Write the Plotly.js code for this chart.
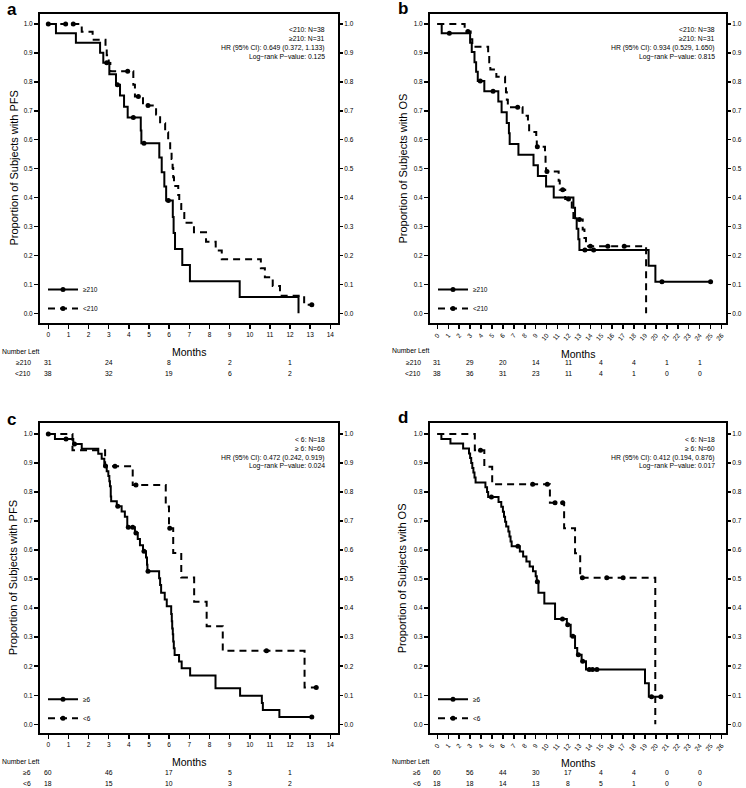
<!DOCTYPE html>
<html><head><meta charset="utf-8">
<script src="https://cdn.plot.ly/plotly-3.0.1.min.js"></script>
<style>html,body{margin:0;padding:0;background:#fff}</style>
</head><body><div id="chart" style="width:746px;height:788px"></div>
<script>
// ---------------- DATA ----------------
// Panel a: PFS, >=210 (solid) vs <210 (dashed)
const aHighT = [0, 0.38, 1.37, 2.57, 2.73, 3.03, 3.36, 3.56, 3.76, 3.94, 4.59, 4.62, 5.51, 5.63, 5.76, 5.85, 6.18, 6.22, 6.29, 6.65, 7.03, 9.5, 12.42];
const aHighS = [1, 0.968, 0.935, 0.901, 0.866, 0.826, 0.790, 0.753, 0.714, 0.677, 0.632, 0.588, 0.539, 0.488, 0.438, 0.39, 0.333, 0.278, 0.222, 0.167, 0.111, 0.056, 0];
const aHighC = [0, 2.9, 3.43, 4.22, 4.75, 5.96];
const aLowT = [0, 1.66, 2.2, 2.84, 2.9, 3.0, 3.08, 4.22, 4.3, 4.7, 5.35, 5.55, 5.8, 5.95, 6.05, 6.12, 6.17, 6.2, 6.24, 6.45, 6.5, 6.6, 6.75, 7.23, 7.83, 8.31, 8.61, 10.55, 10.75, 11.14, 11.5, 12.7];
const aLowS = [1, 0.973, 0.946, 0.919, 0.892, 0.865, 0.837, 0.79, 0.749, 0.718, 0.687, 0.657, 0.626, 0.595, 0.564, 0.533, 0.502, 0.47, 0.44, 0.409, 0.378, 0.347, 0.313, 0.28, 0.247, 0.217, 0.187, 0.156, 0.125, 0.094, 0.061, 0.03];
const aLowC = [0.86, 1.24, 3.94, 4.47, 4.95, 13.08];

// Panel b: OS, >=210 vs <210
const bHighT = [0, 0.4, 3.0, 3.15, 3.4, 3.55, 3.7, 4.3, 5.58, 5.88, 6.35, 6.55, 6.62, 7.42, 8.8, 9.2, 9.95, 10.65, 12.45, 12.6, 12.75, 12.9, 13.0, 19.33, 19.95];
const bHighS = [1, 0.968, 0.935, 0.903, 0.868, 0.835, 0.803, 0.768, 0.732, 0.695, 0.658, 0.622, 0.585, 0.548, 0.512, 0.475, 0.438, 0.40, 0.365, 0.329, 0.292, 0.256, 0.219, 0.164, 0.109];
const bHighC = [1.1, 3.93, 5.1, 13.5, 14.3, 20.55, 25.0];
const bLowT = [0, 2.5, 3.05, 3.2, 4.65, 4.75, 4.85, 5.4, 6.2, 6.28, 6.36, 6.45, 7.8, 8.29, 8.4, 9.05, 9.1, 9.85, 9.9, 9.95, 11.1, 11.2, 11.7, 12.3, 12.45, 13.3, 13.46, 13.6, 19.1];
const bLowS = [1, 0.974, 0.947, 0.921, 0.895, 0.868, 0.843, 0.818, 0.79, 0.764, 0.738, 0.712, 0.683, 0.655, 0.627, 0.6, 0.576, 0.545, 0.515, 0.49, 0.458, 0.427, 0.395, 0.36, 0.324, 0.29, 0.26, 0.232, 0];
const bLowC = [2.8, 7.35, 9.15, 10.03, 11.47, 12.0, 13.0, 14.0, 15.6, 17.1];

// Panel c: PFS, >=6 vs <6
const cHighT = [0, 0.33, 1.24, 1.66, 2.48, 2.65, 2.78, 2.9, 2.98, 3.03, 3.06, 3.1, 3.12, 3.4, 3.64, 3.8, 3.92, 4.3, 4.44, 4.55, 4.7, 4.85, 4.9, 4.92, 5.5, 5.55, 5.6, 5.78, 5.88, 6.1, 6.13, 6.15, 6.18, 6.2, 6.23, 6.27, 6.49, 6.62, 7.04, 8.3, 9.52, 10.6, 10.65, 11.47];
const cHighS = [1, 0.983, 0.966, 0.949, 0.932, 0.915, 0.89, 0.872, 0.855, 0.837, 0.82, 0.785, 0.768, 0.751, 0.733, 0.715, 0.679, 0.659, 0.638, 0.617, 0.596, 0.575, 0.55, 0.527, 0.503, 0.48, 0.453, 0.43, 0.407, 0.38, 0.355, 0.33, 0.31, 0.285, 0.262, 0.239, 0.216, 0.193, 0.168, 0.124, 0.098, 0.073, 0.049, 0.025];
const cHighC = [0, 0.88, 1.3, 2.84, 3.45, 3.97, 4.19, 4.35, 4.75, 4.95, 13.08];
const cLowT = [0, 1.2, 2.82, 4.19, 5.83, 5.99, 6.2, 6.6, 7.24, 7.86, 8.66, 12.72];
const cLowS = [1, 0.944, 0.889, 0.824, 0.75, 0.675, 0.59, 0.506, 0.422, 0.338, 0.253, 0.127];
const cLowC = [3.31, 4.35, 6.03, 10.83, 13.3];

// Panel d: OS, >=6 vs <6
const dHighT = [0, 0.37, 1.2, 2.36, 2.9, 3.0, 3.1, 3.2, 3.3, 3.4, 3.5, 4.4, 4.55, 4.65, 5.6, 5.85, 6.0, 6.1, 6.2, 6.3, 6.5, 6.6, 6.7, 6.8, 7.55, 7.85, 8.15, 8.45, 8.75, 9.0, 9.1, 9.25, 9.79, 10.77, 11.85, 12.2, 12.6, 12.8, 13.2, 13.6, 19.0, 19.35];
const dHighS = [1, 0.983, 0.967, 0.95, 0.933, 0.917, 0.9, 0.883, 0.867, 0.85, 0.833, 0.817, 0.8, 0.783, 0.766, 0.749, 0.732, 0.715, 0.698, 0.681, 0.664, 0.647, 0.63, 0.613, 0.595, 0.578, 0.561, 0.544, 0.527, 0.51, 0.491, 0.453, 0.416, 0.363, 0.343, 0.303, 0.263, 0.24, 0.217, 0.189, 0.141, 0.095];
const dHighC = [4.95, 7.37, 9.15, 11.45, 11.93, 12.4, 12.9, 13.3, 13.9, 14.2, 14.6, 19.6, 20.45];
const dLowT = [0, 3.43, 4.3, 5.02, 10.3, 11.6, 12.6, 13.07, 19.94];
const dLowS = [1, 0.944, 0.887, 0.827, 0.763, 0.675, 0.589, 0.505, 0];
const dLowC = [3.95, 8.72, 10.06, 10.77, 11.47, 13.27, 15.5, 17.0];

// group labels
const abGroups = ['\u2265210', '<210'];
const cdGroups = ['\u22656', '<6'];

// info text
const aInfo = ['<210: N=38', '\u2265210: N=31', 'HR (95% CI): 0.649 (0.372, 1.133)', 'Log\u2212rank P\u2212value: 0.125'];
const bInfo = ['<210: N=38', '\u2265210: N=31', 'HR (95% CI): 0.934 (0.529, 1.650)', 'Log\u2212rank P\u2212value: 0.815'];
const cInfo = ['< 6: N=18', '\u2265 6: N=60', 'HR (95% CI): 0.472 (0.242, 0.919)', 'Log\u2212rank P\u2212value: 0.024'];
const dInfo = ['< 6: N=18', '\u2265 6: N=60', 'HR (95% CI): 0.412 (0.194, 0.876)', 'Log\u2212rank P\u2212value: 0.017'];

// numbers at risk
const shortRiskMonths = [0, 3, 6, 9, 12];
const longRiskMonths = [0, 3, 6, 9, 12, 15, 18, 21, 24];
const aRiskHigh = [31, 24, 8, 2, 1];
const aRiskLow = [38, 32, 19, 6, 2];
const bRiskHigh = [31, 29, 20, 14, 11, 4, 4, 1, 1];
const bRiskLow = [38, 36, 31, 23, 11, 4, 1, 0, 0];
const cRiskHigh = [60, 46, 17, 5, 1];
const cRiskLow = [18, 15, 10, 3, 2];
const dRiskHigh = [60, 56, 44, 30, 17, 4, 4, 0, 0];
const dRiskLow = [18, 18, 14, 13, 8, 5, 1, 0, 0];

const letters = ['a', 'b', 'c', 'd'];
const yTitles = ['Proportion of Subjects with PFS', 'Proportion of Subjects with OS', 'Proportion of Subjects with PFS', 'Proportion of Subjects with OS'];
const xTitle = 'Months';
const riskTitle = 'Number Left';

// ---------------- LAYOUT HELPERS ----------------
const W = 746, H = 788;
const FONT = 'Liberation Sans, Arial, sans-serif';
const px = v => v / W;
const py = v => 1 - v / H;

const panels = [
  {x: 'x', y: 'y', y2: 'y5', frame: [40, 338, 14, 323], xr: [-0.412, 14.38], yr: [-0.0335, 1.0346], long: false,
   high: [aHighT, aHighS, aHighC], low: [aLowT, aLowS, aLowC], groups: abGroups, info: aInfo,
   risk: [aRiskHigh, aRiskLow], letter: [12, 9.5], infoX: 327, infoY: [29, 38.7, 48, 57.3],
   ytX: 13, riskX: 0, rowX: 33, riskY: [351.7, 362.7, 373.3], monthsY: 351.7, legY: 299},
  {x: 'x2', y: 'y2', y2: 'y6', frame: [430, 726, 14, 323], xr: [-0.67, 26.41], yr: [-0.0335, 1.0346], long: true,
   high: [bHighT, bHighS, bHighC], low: [bLowT, bLowS, bLowC], groups: abGroups, info: bInfo,
   risk: [bRiskHigh, bRiskLow], letter: [403, 8], infoX: 717, infoY: [29, 38.7, 48, 57.3],
   ytX: 402, riskX: 390, rowX: 423, riskY: [350.7, 362.7, 373.3], monthsY: 354, legY: 299},
  {x: 'x3', y: 'y3', y2: 'y7', frame: [40, 338, 423.3, 733.3], xr: [-0.412, 14.38], yr: [-0.031, 1.0369], long: false,
   high: [cHighT, cHighS, cHighC], low: [cLowT, cLowS, cLowC], groups: cdGroups, info: cInfo,
   risk: [cRiskHigh, cRiskLow], letter: [11, 419], infoX: 327, infoY: [439, 448.7, 457.7, 466.3],
   ytX: 13, riskX: 0, rowX: 33, riskY: [761.7, 772.7, 783.7], monthsY: 761.7, legY: 708.7},
  {x: 'x4', y: 'y4', y2: 'y8', frame: [430, 726, 423.3, 733.3], xr: [-0.67, 26.41], yr: [-0.031, 1.0369], long: true,
   high: [dHighT, dHighS, dHighC], low: [dLowT, dLowS, dLowC], groups: cdGroups, info: dInfo,
   risk: [dRiskHigh, dRiskLow], letter: [403, 417.5], infoX: 717, infoY: [439, 448.7, 457.7, 466.3],
   ytX: 402, riskX: 390, rowX: 423, riskY: [761.7, 772.7, 783.7], monthsY: 763, legY: 708.7}
];

function survAt(T, S, t) {
  let v = S[0];
  for (let i = 0; i < T.length; i++) if (T[i] <= t) v = S[i];
  return v;
}

const traces = [];
const annotations = [];
const layout = {
  width: W, height: H, margin: {l: 0, r: 0, t: 0, b: 0},
  paper_bgcolor: '#fff', plot_bgcolor: '#fff', showlegend: true,
  font: {family: FONT, color: '#000', size: 7},
  annotations: annotations
};

const DASH = '7px,5px';
const LW = 2;

panels.forEach((p, i) => {
  const legName = i === 0 ? 'legend' : 'legend' + (i + 1);
  const curves = [
    {d: p.high, dash: 'solid', name: p.groups[0]},
    {d: p.low, dash: DASH, name: p.groups[1]}
  ];
  curves.forEach(cv => {
    const [T, S, C] = cv.d;
    const xs = T.slice(), ys = S.slice();
    const end = Math.max(T[T.length - 1], ...C);
    if (end > T[T.length - 1]) { xs.push(end); ys.push(S[S.length - 1]); }
    traces.push({x: xs, y: ys, xaxis: p.x, yaxis: p.y, mode: 'lines', showlegend: false, hoverinfo: 'skip',
      line: {shape: 'hv', color: '#000', width: LW, dash: cv.dash}});
    traces.push({x: C, y: C.map(t => survAt(T, S, t)), xaxis: p.x, yaxis: p.y, mode: 'markers', showlegend: false,
      hoverinfo: 'skip', marker: {symbol: 'circle', size: 5, color: '#000'}});
  });
  curves.forEach(cv => {
    traces.push({x: [null], y: [null], xaxis: p.x, yaxis: p.y, mode: 'lines+markers', name: cv.name, legend: legName,
      line: {color: '#000', width: LW, dash: cv.dash}, marker: {symbol: 'circle', size: 5, color: '#000'}});
  });
  // empty trace so the mirrored right-hand axis is drawn
  traces.push({x: [null], y: [null], xaxis: p.x, yaxis: p.y2, mode: 'lines', showlegend: false, hoverinfo: 'skip'});

  layout[legName] = {x: px(p.frame[0] + 3), xanchor: 'left', y: py(p.legY), yanchor: 'middle',
    bgcolor: 'rgba(0,0,0,0)', borderwidth: 0, font: {size: 6.5, family: FONT, color: '#000'},
    itemwidth: 30, tracegroupgap: 0};

  const idx = i === 0 ? '' : String(i + 1);
  const xDom = [px(p.frame[0]), px(p.frame[1])];
  const yDom = [py(p.frame[3]), py(p.frame[2])];
  layout['xaxis' + idx] = {domain: xDom, anchor: p.y, range: p.xr, tick0: 0, dtick: 1,
    showline: true, mirror: true, linecolor: '#000', linewidth: 2, ticks: 'outside', ticklen: 4, tickwidth: 1.5,
    tickcolor: '#000', showgrid: false, zeroline: false, tickangle: p.long ? -50 : 0,
    tickfont: {size: 6.5, family: FONT, color: '#000'}, fixedrange: true};
  layout['yaxis' + idx] = {domain: yDom, anchor: p.x, range: p.yr, tick0: 0, dtick: 0.1, tickformat: '.1f',
    showline: true, mirror: true, linecolor: '#000', linewidth: 2, ticks: 'outside', ticklen: 4, tickwidth: 1.5,
    tickcolor: '#000', showgrid: false, zeroline: false, tickfont: {size: 6.5, family: FONT, color: '#000'}, fixedrange: true};
  layout['yaxis' + (i + 5)] = {overlaying: p.y, anchor: p.x, side: 'right', range: p.yr, tick0: 0, dtick: 0.1,
    tickformat: '.1f', showline: false, ticks: 'outside', ticklen: 4, tickwidth: 1.5, tickcolor: '#000',
    showgrid: false, zeroline: false, tickfont: {size: 6.5, family: FONT, color: '#000'}, fixedrange: true};

  // panel letter
  annotations.push({text: '<b>' + letters[i] + '</b>', xref: 'paper', yref: 'paper', x: px(p.letter[0]), y: py(p.letter[1]),
    xanchor: 'center', yanchor: 'middle', showarrow: false, font: {size: 17, family: FONT, color: '#000'}});
  // y title
  annotations.push({text: yTitles[i], xref: 'paper', yref: 'paper', x: px(p.ytX), y: py((p.frame[2] + p.frame[3]) / 2),
    xanchor: 'center', yanchor: 'middle', textangle: -90, showarrow: false, font: {size: 11, family: FONT, color: '#000'}});
  // x title
  annotations.push({text: xTitle, xref: 'paper', yref: 'paper', x: px((p.frame[0] + p.frame[1]) / 2), y: py(p.monthsY),
    xanchor: 'center', yanchor: 'middle', showarrow: false, font: {size: 10.5, family: FONT, color: '#000'}});
  // info
  p.info.forEach((t, k) => {
    annotations.push({text: t, xref: 'paper', yref: 'paper', x: px(p.infoX), y: py(p.infoY[k]),
      xanchor: 'right', yanchor: 'middle', showarrow: false, font: {size: 6.8, family: FONT, color: '#000'}});
  });
  // risk table
  annotations.push({text: riskTitle, xref: 'paper', yref: 'paper', x: px(p.riskX), y: py(p.riskY[0]),
    xanchor: 'left', yanchor: 'middle', showarrow: false, font: {size: 6.8, family: FONT, color: '#000'}});
  const months = p.long ? longRiskMonths : shortRiskMonths;
  p.risk.forEach((row, r) => {
    annotations.push({text: p.groups[r], xref: 'paper', yref: 'paper', x: px(p.rowX), y: py(p.riskY[r + 1]),
      xanchor: 'right', yanchor: 'middle', showarrow: false, font: {size: 6.8, family: FONT, color: '#000'}});
    row.forEach((n, k) => {
      annotations.push({text: String(n), xref: p.x, yref: 'paper', x: months[k], y: py(p.riskY[r + 1]),
        xanchor: 'center', yanchor: 'middle', showarrow: false, font: {size: 6.8, family: FONT, color: '#000'}});
    });
  });
});

Plotly.newPlot('chart', traces, layout, {staticPlot: true, displayModeBar: false});
</script></body></html>
